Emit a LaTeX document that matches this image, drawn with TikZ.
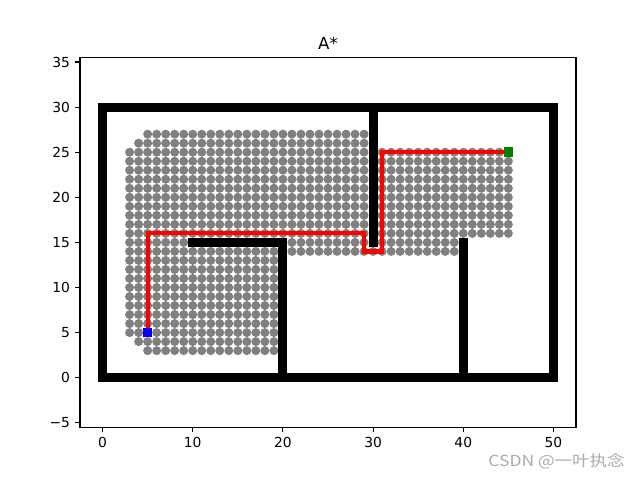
\documentclass[tikz,border=0pt]{standalone}
\usepackage{fontspec}
\setmainfont{DejaVu Sans}
\newfontfamily\cjkfont{Noto Sans CJK SC}
\definecolor{mplgray}{HTML}{808080}
\definecolor{mplgreen}{HTML}{008000}
\definecolor{markgray}{HTML}{ABABAB}

\tikzstyle{explored}=[fill=mplgray]
\tikzstyle{wall}=[fill=black]
\tikzstyle{endpoint}=[rectangle,minimum size=6.5pt,inner sep=0pt]
\tikzstyle{route}=[draw,red,line width=3pt]
\tikzstyle{tick}=[line width=0.8pt]
\tikzstyle{ticklabel}=[font=\fontsize{10}{12}\selectfont,inner sep=0pt]

\begin{document}
\begin{tikzpicture}[x=0.09018in,y=0.09018in]
\useasboundingbox (-11.371,-11.347) rectangle (59.597,41.880);
% explored cells
\foreach \ya/\yb/\xa/\xb in {27/27/5/29, 26/26/4/29, 16/25/3/29, 16/25/31/45,
                             15/15/3/9, 15/15/21/29, 15/15/31/39,
                             14/14/3/19, 14/14/21/39, 5/13/3/19,
                             4/4/4/19, 3/3/5/19}{
  \foreach \y in {\ya,...,\yb}{
    \foreach \x in {\xa,...,\xb}{
      \fill[explored] (\x,\y) circle (0.5);
    }
  }
}
% obstacles
\foreach \xa/\ya/\xb/\yb in {0/0/50/0, 0/30/50/30, 0/0/0/30, 50/0/50/30,
                             20/0/20/15, 40/0/40/15, 30/15/30/30, 10/15/20/15}{
  \fill[wall] (\xa-0.5,\ya-0.5) rectangle (\xb+0.5,\yb+0.5);
}
% start and goal
\node[endpoint] (start) at (5,5) {};
\node[endpoint] (goal) at (45,25) {};
\path[route] (start.center) -- (5,16) -- (29,16) -- (29,14) -- (31,14) -- (31,25) -- (goal.center);
\fill[blue] (start.south west) rectangle (start.north east);
\fill[mplgreen] (goal.south west) rectangle (goal.north east);
% axes
\draw[tick] (-2.5,-5.4925) rectangle (52.5,35.4925);
\foreach \x in {0,10,...,50}{
  \draw[tick] (\x,-5.4925) -- ++(0,-3.5pt);
  \node[ticklabel,anchor=north] (xt\x) at ([yshift=-7pt]\x,-5.4925) {\x};
}
\foreach \y/\lab in {-5/−5, 0/0, 5/5, 10/10, 15/15, 20/20, 25/25, 30/30, 35/35}{
  \draw[tick] (-2.5,\y) -- ++(-3.5pt,0);
  \node[ticklabel,anchor=east] (yt\y) at ([xshift=-7pt]-2.5,\y) {\lab};
}
\node[font=\fontsize{12}{14}\selectfont,inner sep=0pt,anchor=base] (title) at ([yshift=6pt]25,35.4925) {A*};
\node[font=\cjkfont\fontsize{11}{13}\selectfont,text=markgray,inner sep=0pt,anchor=east,
      xscale=1.15,transform shape] (mark) at (57.94,-9.24) {CSDN @一叶执念};
\end{tikzpicture}
\end{document}
